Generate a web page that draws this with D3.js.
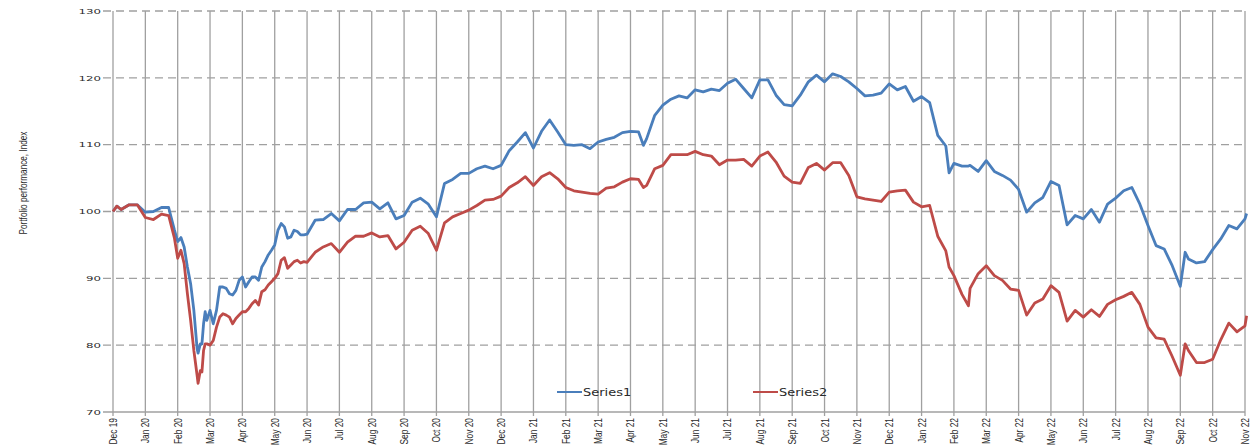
<!DOCTYPE html>
<html>
<head>
<meta charset="utf-8">
<script src="https://cdn.jsdelivr.net/npm/d3@7"></script>
<style>
  body { margin: 0; background: #fff; }
  svg { display: block; }
</style>
</head>
<body>
<div id="canvas"></div>
<script>
var WIDTH = 1252
var HEIGHT = 448

// month labels, one per gridline (index 0 = Dec 19)
var monthLabels = ['Dec 19', 'Jan 20', 'Feb 20', 'Mar 20', 'Apr 20', 'May 20', 'Jun 20', 'Jul 20',
  'Aug 20', 'Sep 20', 'Oct 20', 'Nov 20', 'Dec 20', 'Jan 21', 'Feb 21', 'Mar 21', 'Apr 21',
  'May 21', 'Jun 21', 'Jul 21', 'Aug 21', 'Sep 21', 'Oct 21', 'Nov 21', 'Dec 21', 'Jan 22',
  'Feb 22', 'Mar 22', 'Apr 22', 'May 22', 'Jun 22', 'Jul 22', 'Aug 22', 'Sep 22', 'Oct 22', 'Nov 22']

var yTicks = [70, 80, 90, 100, 110, 120, 130]

var seriesNames = ['Series1', 'Series2']

// position in months since Dec 19
var t = [
  0, 0.12, 0.25, 0.5, 0.75, 1, 1.25, 1.5, 1.72, 1.9,
  2, 2.1, 2.2, 2.3, 2.4, 2.5, 2.6, 2.63, 2.7, 2.75, 2.8, 2.85, 2.9,
  3, 3.1, 3.2, 3.3, 3.4, 3.5, 3.6, 3.7, 3.8, 3.9,
  4, 4.1, 4.2, 4.3, 4.4, 4.5, 4.6, 4.7, 4.8, 4.9,
  5, 5.1, 5.2, 5.3, 5.4, 5.5, 5.6, 5.7, 5.8, 5.9,
  6, 6.25, 6.5, 6.75,
  7, 7.25, 7.5, 7.75,
  8, 8.25, 8.5, 8.75,
  9, 9.25, 9.5, 9.75,
  10, 10.25, 10.5, 10.75,
  11, 11.25, 11.5, 11.75,
  12, 12.25, 12.5, 12.75,
  13, 13.25, 13.5, 13.75,
  14, 14.25, 14.5, 14.75,
  15, 15.25, 15.5, 15.75,
  16, 16.25, 16.4, 16.5, 16.75,
  17, 17.25, 17.5, 17.75,
  18, 18.25, 18.5, 18.75,
  19, 19.25, 19.5, 19.75,
  20, 20.25, 20.5, 20.75,
  21, 21.25, 21.5, 21.75,
  22, 22.25, 22.5, 22.75,
  23, 23.25, 23.5, 23.75,
  24, 24.25, 24.5, 24.75,
  25, 25.25, 25.5, 25.75, 25.85,
  26, 26.25, 26.45, 26.5, 26.75,
  27, 27.25, 27.5, 27.75,
  28, 28.25, 28.5, 28.75,
  29, 29.25, 29.5, 29.75,
  30, 30.25, 30.5, 30.75,
  31, 31.25, 31.5, 31.75,
  32, 32.25, 32.5, 32.75,
  33, 33.15, 33.25, 33.5, 33.75,
  34, 34.25, 34.5, 34.75,
  35, 35.05
]

var series1 = [
  100.0, 100.8, 100.3, 101.0, 101.0, 99.9, 100.0, 100.6, 100.6, 97.2,
  95.5, 96.1, 94.7, 91.7, 89.2, 85.2, 79.5, 78.8, 80.2, 80.2, 83.2, 85.0, 83.7,
  85.2, 83.2, 85.2, 88.7, 88.7, 88.5, 87.7, 87.5, 88.2, 89.7,
  90.2, 88.7, 89.5, 90.2, 90.2, 89.7, 91.7, 92.5, 93.5, 94.2,
  95.0, 97.2, 98.2, 97.7, 96.0, 96.2, 97.2, 97.0, 96.5, 96.5,
  96.6, 98.7, 98.8, 99.7,
  98.6, 100.3, 100.3, 101.3,
  101.4, 100.4, 101.3, 98.9,
  99.4, 101.4, 102.0, 101.1,
  99.2, 104.2, 104.8, 105.7,
  105.7, 106.4, 106.8, 106.4,
  106.9, 109.1, 110.4, 111.8,
  109.5, 112.0, 113.7, 111.9,
  110.0, 109.9, 110.0, 109.4,
  110.4, 110.8, 111.1, 111.8,
  112.0, 111.9, 109.9, 110.9, 114.4,
  115.9, 116.8, 117.3, 117.0,
  118.2, 117.9, 118.3, 118.1,
  119.2, 119.8, 118.4, 117.0,
  119.7, 119.7, 117.4, 116.0,
  115.8, 117.4, 119.4, 120.4,
  119.4, 120.6, 120.2, 119.4,
  118.4, 117.3, 117.4, 117.7,
  119.1, 118.2, 118.7, 116.5,
  117.2, 116.3, 111.4, 109.8, 105.8,
  107.2, 106.8, 106.8, 106.9, 106.0,
  107.6, 106.0, 105.4, 104.7,
  103.3, 99.9, 101.3, 102.1,
  104.5, 103.9, 98.0, 99.4,
  98.9, 100.3, 98.4, 101.1,
  102.0, 103.1, 103.6, 101.1,
  97.9, 94.9, 94.4, 91.9,
  88.8, 93.9, 92.9, 92.3, 92.5,
  94.3, 95.9, 97.9, 97.4,
  98.9, 99.7
]

var series2 = [
  100.0, 100.8, 100.3, 101.0, 101.0, 99.1, 98.8, 99.6, 99.4, 96.0,
  93.0, 94.2, 92.2, 87.7, 83.7, 79.2, 75.5, 74.3, 76.2, 76.0, 79.2, 80.2, 80.2,
  80.0, 80.7, 82.7, 84.2, 84.7, 84.5, 84.2, 83.2, 84.0, 84.5,
  85.0, 85.0, 85.5, 86.2, 86.7, 86.0, 88.0, 88.3, 89.0, 89.5,
  90.0, 90.7, 92.7, 93.1, 91.5, 92.0, 92.5, 92.7, 92.3, 92.5,
  92.4, 93.9, 94.7, 95.2,
  93.9, 95.4, 96.3, 96.3,
  96.8, 96.2, 96.4, 94.4,
  95.4, 97.2, 97.8, 96.7,
  94.2, 98.3, 99.2, 99.7,
  100.2, 100.9, 101.7, 101.8,
  102.3, 103.6, 104.3, 105.2,
  103.9, 105.2, 105.8, 104.9,
  103.6, 103.1, 102.9, 102.7,
  102.6, 103.5, 103.7, 104.4,
  104.9, 104.8, 103.6, 103.9, 106.4,
  106.9, 108.5, 108.5, 108.5,
  109.0, 108.5, 108.3, 107.0,
  107.7, 107.7, 107.8, 106.8,
  108.3, 108.9, 107.4, 105.3,
  104.4, 104.2, 106.6, 107.2,
  106.2, 107.3, 107.3, 105.4,
  102.2, 101.9, 101.7, 101.5,
  102.9, 103.1, 103.2, 101.4,
  100.7, 100.9, 96.3, 94.1, 91.7,
  90.4, 87.6, 85.9, 88.5, 90.7,
  91.9, 90.4, 89.7, 88.4,
  88.2, 84.5, 86.3, 86.9,
  88.9, 87.9, 83.6, 85.2,
  84.2, 85.3, 84.3, 86.1,
  86.8, 87.3, 87.9, 86.1,
  82.7, 81.1, 80.9, 78.3,
  75.5, 80.2, 79.2, 77.4, 77.4,
  77.9, 80.8, 83.3, 82.0,
  82.9, 84.4
]

if (t.length !== series1.length || t.length !== series2.length) {
  console.log('length mismatch', t.length, series1.length, series2.length)
}

var COLORS = ['#4a7ebb', '#be4b48']
var GRID = '#a0a0a0'
var NARROW = 'Liberation Sans, Arial, sans-serif'
var LEFT = 113
var RIGHT = 1245
var TOP = 11
var BOTTOM = 412

var x = d3.scaleLinear().domain([0, monthLabels.length - 1]).range([LEFT, RIGHT])
var y = d3.scaleLinear().domain([70, 130]).range([BOTTOM, TOP])

var svg = d3.select('#canvas').append('svg')
  .attr('width', WIDTH)
  .attr('height', HEIGHT)

// horizontal gridlines (dashed), the 70 line is the solid axis
svg.append('g').selectAll('line')
  .data(yTicks)
  .enter().append('line')
  .attr('x1', LEFT - 10)
  .attr('x2', RIGHT)
  .attr('y1', function (d) { return y(d) })
  .attr('y2', function (d) { return y(d) })
  .attr('stroke', GRID)
  .attr('stroke-width', 1.3)
  .attr('stroke-dasharray', function (d) { return d === 70 ? null : '8,5' })

// vertical month gridlines
svg.append('g').selectAll('line')
  .data(d3.range(monthLabels.length))
  .enter().append('line')
  .attr('x1', function (d) { return x(d) })
  .attr('x2', function (d) { return x(d) })
  .attr('y1', TOP)
  .attr('y2', BOTTOM + 4)
  .attr('stroke', GRID)
  .attr('stroke-width', 1.3)

// y tick labels (wide, squat glyphs like the original)
svg.append('g').selectAll('text')
  .data(yTicks)
  .enter().append('text')
  .attr('transform', function (d) { return 'translate(' + (LEFT - 12) + ',' + (y(d) + 2.8) + ') scale(1.55,1)' })
  .attr('text-anchor', 'end')
  .attr('font-family', 'DejaVu Sans, sans-serif')
  .attr('font-size', 7.6)
  .attr('fill', '#2a2a2a')
  .text(function (d) { return d })

// x tick labels, rotated and condensed along the text
svg.append('g').selectAll('text')
  .data(monthLabels)
  .enter().append('text')
  .attr('transform', function (d, i) { return 'translate(' + x(i) + ',' + (BOTTOM + 6) + ') rotate(-90) scale(0.76,1)' })
  .attr('dy', '0.36em')
  .attr('text-anchor', 'end')
  .attr('font-family', NARROW)
  .attr('font-size', 11)
  .attr('fill', '#2a2a2a')
  .text(function (d) { return d })

// y axis title
svg.append('text')
  .attr('transform', 'translate(27,183) rotate(-90) scale(0.82,1)')
  .attr('text-anchor', 'middle')
  .attr('font-family', NARROW)
  .attr('font-size', 10)
  .attr('fill', '#2a2a2a')
  .text('Portfolio performance, Index')

var line = d3.line()
  .x(function (d) { return x(d[0]) })
  .y(function (d) { return y(d[1]) })

var data = [series1, series2].map(function (s) {
  return t.map(function (m, i) { return [m, s[i]] })
})

svg.append('g').selectAll('path')
  .data(data)
  .enter().append('path')
  .attr('d', line)
  .attr('fill', 'none')
  .attr('stroke', function (d, i) { return COLORS[i] })
  .attr('stroke-width', 2.8)
  .attr('stroke-linejoin', 'round')

// legend
var legendX = [557, 753]
var legend = svg.append('g').selectAll('g')
  .data(seriesNames)
  .enter().append('g')
  .attr('transform', function (d, i) { return 'translate(' + legendX[i] + ',392)' })

legend.append('line')
  .attr('x1', 0)
  .attr('x2', 25)
  .attr('stroke', function (d, i) { return COLORS[i] })
  .attr('stroke-width', 2)

legend.append('text')
  .attr('transform', 'translate(26,3.5) scale(1.3,1)')
  .attr('font-family', 'DejaVu Sans, sans-serif')
  .attr('font-size', 10)
  .attr('fill', '#2a2a2a')
  .text(function (d) { return d })
</script>
</body>
</html>
